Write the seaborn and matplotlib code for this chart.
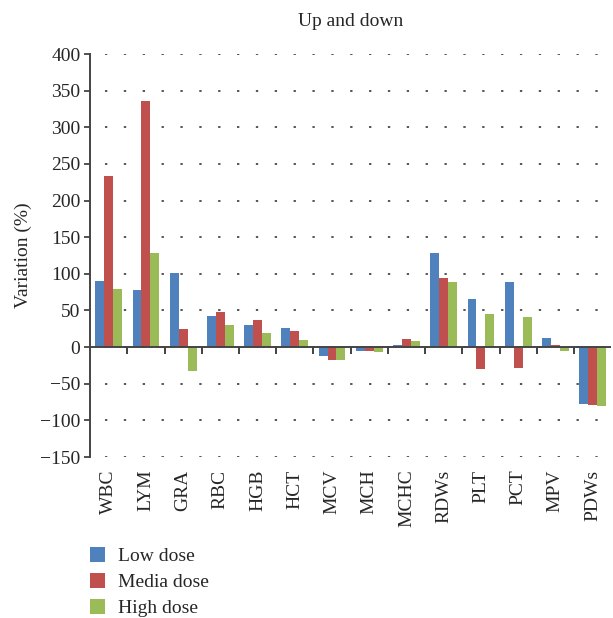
import matplotlib
matplotlib.use("Agg")
import matplotlib.pyplot as plt
import numpy as np
import pandas as pd
import seaborn as sns

categories = ["WBC", "LYM", "GRA", "RBC", "HGB", "HCT", "MCV", "MCH", "MCHC",
              "RDWs", "PLT", "PCT", "MPV", "PDWs"]
low_dose = [90.5, 78, 101, 42.5, 30.5, 26, -11.5, -5, 2.3, 129, 66, 88.7, 13, -77.5]
media_dose = [233.5, 336, 25, 48, 37, 22, -17, -5, 10.5, 94, -30, -28.8, 2.3, -78.8]
high_dose = [79.5, 128.5, -32, 30.5, 19.5, 10, -17, -6.4, 7.7, 88.7, 45.5, 41.4, -5.9, -80]
series_names = ["Low dose", "Media dose", "High dose"]
colors = ["#4F81BD", "#C0504D", "#9BBB59"]

df = pd.DataFrame({"cat": categories, "Low dose": low_dose,
                   "Media dose": media_dose, "High dose": high_dose})
long_df = df.melt(id_vars="cat", var_name="dose", value_name="val")

sns.set_style("white")
plt.rcParams["font.family"] = ["Liberation Serif", "DejaVu Serif"]
plt.rcParams["axes.unicode_minus"] = True

fig = plt.figure(figsize=(6.13, 6.18), dpi=100)
ax = fig.add_axes([0.147, 0.2605, 0.85, 0.652])

sns.barplot(data=long_df, x="cat", y="val", hue="dose", order=categories,
            hue_order=series_names, palette=colors, width=0.72, gap=0,
            saturation=1, linewidth=0, edgecolor="none", ax=ax, legend=True)

ax.set_ylim(-150, 400)
ax.set_xlim(-0.5, len(categories) - 0.5)
ax.set_yticks(np.arange(-150, 401, 50))
for y in np.arange(-150, 401, 50):
    ax.axhline(y, color="#555555", linestyle=(2, (1.2, 8.5)), linewidth=1.4, zorder=0)

ax.axhline(0, color="#444444", linewidth=1.4, zorder=5)
for s in ["top", "right", "bottom"]:
    ax.spines[s].set_visible(False)
ax.spines["left"].set_color("#444444")
ax.spines["left"].set_linewidth(1.4)
ax.tick_params(axis="y", direction="out", length=4, width=1.3, labelsize=14,
               color="#444444", left=True, pad=3)
ax.tick_params(axis="x", length=0, labelsize=14, labelrotation=90, pad=9)

sec = ax.secondary_xaxis(150 / 550)
sec.set_xticks(np.arange(0.5, len(categories) - 0.5, 1))
sec.set_xticklabels([])
sec.tick_params(direction="out", length=5, width=1.3, color="#333333")
sec.spines["bottom"].set_visible(False)

ax.set_xlabel("")
ax.set_ylabel("Variation (%)", fontsize=14, labelpad=6)
ax.set_title("Up and down", fontsize=14, pad=20)

handles, labels = ax.get_legend_handles_labels()
ax.get_legend().remove()
fig.legend(handles, labels, loc="upper left", bbox_to_anchor=(0.134, 0.127),
           frameon=False, fontsize=14, handlelength=0.78, handleheight=0.78,
           labelspacing=0.4, handletextpad=0.65, borderaxespad=0)

fig.savefig("out.png", dpi=100)
